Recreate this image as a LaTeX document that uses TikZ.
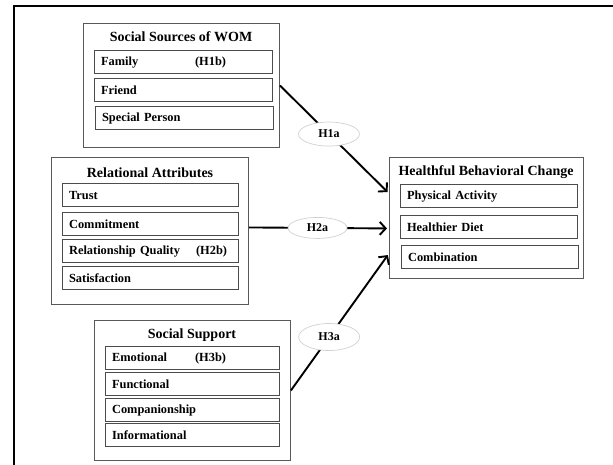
\documentclass[tikz,border=0pt]{standalone}
\usepackage{fontspec}
\setmainfont{Liberation Serif}
\usetikzlibrary{shapes.geometric,arrows.meta,positioning}
\tikzset{
  grp/.style={draw=black!65, line width=0.9pt, anchor=north west, inner sep=0pt},
  itm/.style={draw=black!70, line width=1.1pt, anchor=north west, inner xsep=6.5pt, inner ysep=0pt,
     minimum height=23pt, align=left, font=\fontsize{12.4}{14}\selectfont\bfseries},
  ttl/.style={font=\fontsize{14}{16}\selectfont\bfseries, inner sep=0pt},
  hyp/.style={ellipse, draw=black!18, line width=0.7pt, fill=white,
     minimum width=61pt, minimum height=24pt, inner sep=0pt, font=\fontsize{12}{14}\selectfont\bfseries},
  arr/.style={line width=1.9pt, -{Straight Barb[length=6pt,width=13pt]}, shorten >=2pt},
}
\begin{document}
\begin{tikzpicture}[x=1pt,y=-1pt]
\useasboundingbox (0,0) rectangle (613,465);
\draw[line width=1.5pt] (14,465) -- (14,6) -- (613,6);
% Social Sources of WOM
\node[grp, minimum width=196pt, minimum height=124pt] (ssw) at (83,23) {};
\node[ttl] (sswt) at (181,37) {Social Sources of WOM};
\node[itm, text width=165pt] (fam) at (94,50) {\makebox[94pt][l]{Family}(H1b)};
\node[itm, text width=165pt] (fri) at (94,78) {Friend};
\node[itm, text width=165pt] (spp) at (95,106) {Special Person};
% Relational Attributes
\node[grp, minimum width=197pt, minimum height=147pt] (ra) at (51,157) {};
\node[ttl] (rat) at (150,173) {Relational Attributes};
\node[itm, text width=163pt] (tru) at (62,183) {Trust};
\node[itm, text width=163pt] (com) at (62,212) {Commitment};
\node[itm, text width=163pt] (rq) at (62,239) {\makebox[127pt][l]{Relationship Quality}(H2b)};
\node[itm, text width=163pt] (sat) at (62,266) {Satisfaction};
% Social Support
\node[grp, minimum width=196pt, minimum height=140pt] (ss) at (94,320) {};
\node[ttl] (sst) at (192,335) {Social Support};
\node[itm, text width=161pt] (emo) at (105,346) {\makebox[83pt][l]{Emotional}(H3b)};
\node[itm, text width=161pt] (fun) at (105,372) {Functional};
\node[itm, text width=161pt] (cmp) at (105,398) {Companionship};
\node[itm, text width=161pt] (inf) at (105,423) {Informational};
% Healthful Behavioral Change
\node[grp, minimum width=194pt, minimum height=121pt] (hbc) at (389,157) {};
\node[ttl] (hbct) at (486,172) {Healthful Behavioral Change};
\node[itm, text width=164pt] (pa) at (400,184) {Physical Activity};
\node[itm, text width=164pt] (hd) at (400,215) {Healthier Diet};
\node[itm, text width=164pt] (cb) at (401,245) {Combination};
% connectors
\draw[arr] (ssw.east) -- node[hyp, pos=0.45] (h1) {H1a} ([yshift=24.5pt]hbc.west);
\draw[arr] ([yshift=3.5pt]ra.east) -- node[hyp, pos=0.49, minimum height=21pt, minimum width=59pt] (h2) {H2a} ([yshift=-10.5pt]hbc.west);
\draw[arr] (ss.east) -- node[hyp, pos=0.39, minimum height=27pt] (h3) {H3a} ([yshift=-35.5pt]hbc.west);
\end{tikzpicture}
\end{document}
